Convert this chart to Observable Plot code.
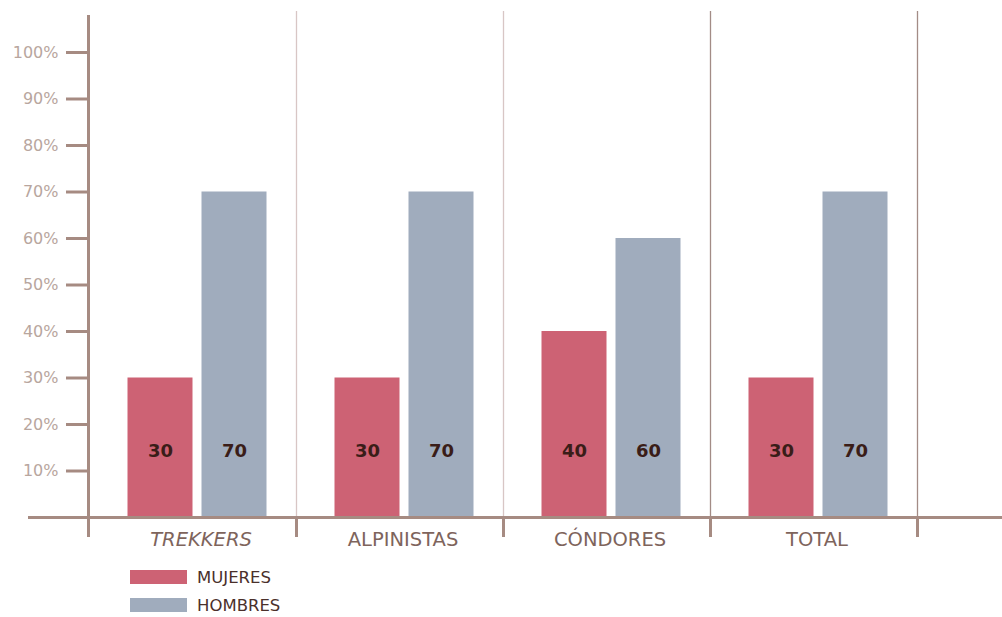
<!DOCTYPE html>
<html>
<head>
<meta charset="utf-8">
<script src="https://cdn.jsdelivr.net/npm/d3@7"></script>
<script src="https://cdn.jsdelivr.net/npm/@observablehq/plot@0.6"></script>
<style>
  html, body { margin: 0; padding: 0; background: #ffffff; }
  #chart svg { display: block; }
  .legend { font-family: "DejaVu Sans", sans-serif; font-size: 16.5px; color: #4a302b; padding-left: 130px; margin-top: 6px; }
  .legend .row { display: flex; align-items: center; height: 28px; }
  .legend .sw { width: 57px; height: 14px; margin-right: 10px; }
</style>
</head>
<body>
<div id="chart"></div>
<div class="legend" id="legend"></div>
<script>
// Share of women and men by group (percent)
const categories = ["TREKKERS", "ALPINISTAS", "CÓNDORES", "TOTAL"];
const mujeres = [30, 30, 40, 30];
const hombres = [70, 70, 60, 70];
const series = ["MUJERES", "HOMBRES"];
const seriesColors = ["#cd6274", "#a0acbd"];
const yTicks = [10, 20, 30, 40, 50, 60, 70, 80, 90, 100];

const rows = categories.map((category, i) => ({
  category,
  mujeres: mujeres[i],
  hombres: hombres[i]
}));

const axisColor = "#a68b82";
const lightSep = "#d8c6c5";
const darkSep = "#a38c86";
const band = (916 - 88) / categories.length;
const half = band / 2;
const font = "'DejaVu Sans', sans-serif";

const chart = Plot.plot({
  width: 1002,
  height: 557,
  marginLeft: 88,
  marginRight: 86,
  marginTop: 11,
  marginBottom: 40,
  style: { fontFamily: font, background: "#ffffff", overflow: "visible" },
  x: { domain: categories, range: [88, 916], padding: 0, axis: null },
  y: { domain: [0, 100], range: [517, 52] },
  marks: [
    // group separators
    Plot.ruleX(categories.slice(0, 2), { x: d => d, dx: half + 1, stroke: lightSep, strokeWidth: 1.3 }),
    Plot.ruleX(categories.slice(2), { x: d => d, dx: half + 1, stroke: darkSep, strokeWidth: 1.3 }),
    // bars
    Plot.barY(rows, { x: "category", y: "mujeres", fill: seriesColors[0], insetLeft: 39.5, insetRight: band - 104.5 }),
    Plot.barY(rows, { x: "category", y: "hombres", fill: seriesColors[1], insetLeft: 113.5, insetRight: band - 178.5 }),
    // value labels
    Plot.text(rows, { x: "category", text: "mujeres", frameAnchor: "bottom", lineAnchor: "middle", dx: 39.5 + 32.5 - half, dy: -66, fontWeight: "bold", fontSize: 18, fill: "#3a1d18" }),
    Plot.text(rows, { x: "category", text: "hombres", frameAnchor: "bottom", lineAnchor: "middle", dx: 113.5 + 32.5 - half, dy: -66, fontWeight: "bold", fontSize: 18, fill: "#3a1d18" }),
    // baseline
    Plot.ruleY([0], { stroke: axisColor, strokeWidth: 3, insetLeft: -60, insetRight: -86 }),
    // tick marks below the baseline at group edges
    Plot.ruleX(categories, { x: d => d, dx: half + 1, y1: 0, y2: 0, insetBottom: -20, stroke: axisColor, strokeWidth: 3 }),
    // vertical axis line
    Plot.ruleX([categories[0]], { x: d => d, dx: -half, insetTop: 4, insetBottom: -20, stroke: axisColor, strokeWidth: 3 }),
    // y axis ticks and labels
    Plot.axisY(yTicks, {
      tickSize: 22, tickPadding: 8, tickFormat: d => d + "%",
      stroke: axisColor, strokeWidth: 3, fill: "#b8a69e", fontSize: 16, label: null
    }),
    // category labels
    Plot.text(rows.filter(d => d.category === "TREKKERS"), { x: "category", text: "category", frameAnchor: "bottom", lineAnchor: "middle", dx: 9, dy: 22, fontSize: 19.5, fontStyle: "italic", fill: "#7e645c" }),
    Plot.text(rows.filter(d => d.category !== "TREKKERS"), { x: "category", text: "category", frameAnchor: "bottom", lineAnchor: "middle", dx: 4, dy: 22, fontSize: 19.5, fill: "#7e645c" })
  ]
});
document.getElementById("chart").appendChild(chart);

// legend
const legend = document.getElementById("legend");
series.forEach((name, i) => {
  const row = document.createElement("div");
  row.className = "row";
  const sw = document.createElement("div");
  sw.className = "sw";
  sw.style.background = seriesColors[i];
  const label = document.createElement("span");
  label.textContent = name;
  row.appendChild(sw);
  row.appendChild(label);
  legend.appendChild(row);
});
</script>
</body>
</html>
